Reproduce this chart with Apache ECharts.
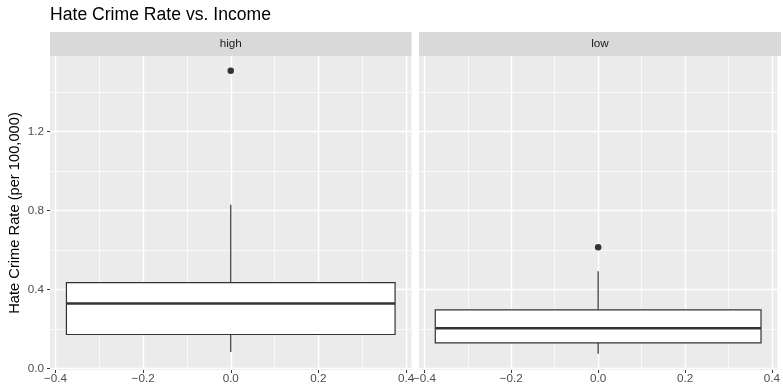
<!DOCTYPE html>
<html><head><meta charset="utf-8">
<script src="https://cdn.jsdelivr.net/npm/echarts@6/dist/echarts.min.js"></script>
<style>html,body{margin:0;padding:0;background:#fff}#c{width:783px;height:386px}</style>
</head><body><div id="c"></div>
<script>
// ---- data ----
const panels = ['high', 'low'];
// [x, lower whisker, Q1, median, Q3, upper whisker]
const boxHigh = [0, 0.083, 0.172, 0.329, 0.435, 0.830];
const boxLow = [0, 0.074, 0.130, 0.204, 0.297, 0.493];
const outliersHigh = [[0, 1.509]];
const outliersLow = [[0, 0.614]];
const xTicks = [-0.4, -0.2, 0, 0.2, 0.4];
const xMinor = [-0.3, -0.1, 0.1, 0.3];
const yTicks = [0, 0.4, 0.8, 1.2];
const yMinor = [0.2, 0.6, 1.0, 1.4];
const boxHalfWidth = 0.375;
const titleText = 'Hate Crime Rate vs. Income';
const yTitle = 'Hate Crime Rate (per 100,000)';

// ---- layout ----
const FONT = 'Liberation Sans, Arial, sans-serif';
const grids = [
  {left: 50, top: 56, width: 361.5, height: 314},
  {left: 419, top: 56, width: 362, height: 314}
];
const xRange = [-0.4125, 0.4125];
const yRange = [-0.008, 1.584];
const fmt = v => (v < 0 ? '\u2212' : '') + Math.abs(v).toFixed(1);
const TICK_FS = 11.7;

const chart = echarts.init(document.getElementById('c'), null, {renderer: 'canvas'});

function xAxisMajor(gi) {
  return {type: 'value', gridIndex: gi, min: xRange[0], max: xRange[1], position: 'bottom',
    axisLine: {show: false, onZero: false},
    axisTick: {show: true, customValues: xTicks, length: 3, lineStyle: {color: '#333', width: 1}},
    axisLabel: {customValues: xTicks, formatter: fmt, color: '#4D4D4D', fontSize: TICK_FS, fontFamily: FONT, margin: 3},
    splitLine: {show: true, lineStyle: {color: '#fff', width: 1.4}}};
}
function xAxisMinor(gi) {
  return {type: 'value', gridIndex: gi, min: xRange[0], max: xRange[1], position: 'top',
    axisLine: {show: false, onZero: false},
    axisTick: {show: false, customValues: xMinor},
    axisLabel: {show: false, customValues: xMinor},
    splitLine: {show: true, lineStyle: {color: '#fff', width: 0.7}}};
}
function yAxisMajor(gi, labels) {
  const a = {type: 'value', gridIndex: gi, min: yRange[0], max: yRange[1], position: 'left',
    axisLine: {show: false, onZero: false},
    axisTick: {show: labels, customValues: yTicks, length: 3, lineStyle: {color: '#333', width: 1}},
    axisLabel: {show: labels, customValues: yTicks, formatter: fmt, color: '#4D4D4D', fontSize: TICK_FS, fontFamily: FONT, margin: 6},
    splitLine: {show: true, lineStyle: {color: '#fff', width: 1.4}}};
  if (labels) {
    a.name = yTitle; a.nameLocation = 'middle'; a.nameRotate = 90; a.nameGap = 28;
    a.nameTextStyle = {color: '#000', fontSize: 14.7, fontFamily: FONT};
  }
  return a;
}
function yAxisMinor(gi) {
  return {type: 'value', gridIndex: gi, min: yRange[0], max: yRange[1], position: 'right',
    axisLine: {show: false, onZero: false},
    axisTick: {show: false, customValues: yMinor},
    axisLabel: {show: false, customValues: yMinor},
    splitLine: {show: true, lineStyle: {color: '#fff', width: 0.7}}};
}

function renderBox(params, api) {
  const x = api.value(0);
  const lo = api.value(1), q1 = api.value(2), med = api.value(3), q3 = api.value(4), hi = api.value(5);
  const tl = api.coord([x - boxHalfWidth, q3]);
  const br = api.coord([x + boxHalfWidth, q1]);
  const mL = api.coord([x - boxHalfWidth, med]);
  const mR = api.coord([x + boxHalfWidth, med]);
  const pHi = api.coord([x, hi]), pQ3 = api.coord([x, q3]), pQ1 = api.coord([x, q1]), pLo = api.coord([x, lo]);
  const stroke = '#333333';
  return {type: 'group', children: [
    {type: 'line', shape: {x1: pHi[0], y1: pHi[1], x2: pQ3[0], y2: pQ3[1]}, style: {stroke, lineWidth: 1.2}},
    {type: 'line', shape: {x1: pLo[0], y1: pLo[1], x2: pQ1[0], y2: pQ1[1]}, style: {stroke, lineWidth: 1.2}},
    {type: 'rect', shape: {x: tl[0], y: tl[1], width: br[0] - tl[0], height: br[1] - tl[1]}, style: {fill: '#fff', stroke, lineWidth: 1.2}},
    {type: 'line', shape: {x1: mL[0], y1: mL[1], x2: mR[0], y2: mR[1]}, style: {stroke, lineWidth: 2.4}}
  ]};
}

const stripGraphics = [];
grids.forEach((g, i) => {
  stripGraphics.push({type: 'rect', left: g.left, top: 32, shape: {width: g.width, height: 24}, style: {fill: '#D9D9D9'}, silent: true});
  stripGraphics.push({type: 'text', x: g.left + g.width / 2, y: 44, style: {text: panels[i], fill: '#1A1A1A', font: TICK_FS + 'px ' + FONT, textAlign: 'center', textVerticalAlign: 'middle'}, silent: true});
});

chart.setOption({
  animation: false,
  backgroundColor: '#fff',
  title: {text: titleText, left: 50, top: 6, padding: 0, textStyle: {fontSize: 17.6, fontWeight: 'normal', color: '#000', fontFamily: FONT}},
  grid: grids.map(g => Object.assign({show: true, backgroundColor: '#EBEBEB', borderWidth: 0, containLabel: false}, g)),
  xAxis: [xAxisMajor(0), xAxisMajor(1), xAxisMinor(0), xAxisMinor(1)],
  yAxis: [yAxisMajor(0, true), yAxisMajor(1, false), yAxisMinor(0), yAxisMinor(1)],
  graphic: stripGraphics,
  series: [
    {type: 'custom', xAxisIndex: 0, yAxisIndex: 0, renderItem: renderBox, data: [boxHigh], encode: {x: 0, y: [1, 2, 3, 4, 5]}, z: 3},
    {type: 'custom', xAxisIndex: 1, yAxisIndex: 1, renderItem: renderBox, data: [boxLow], encode: {x: 0, y: [1, 2, 3, 4, 5]}, z: 3},
    {type: 'scatter', xAxisIndex: 0, yAxisIndex: 0, data: outliersHigh, symbolSize: 6.5, itemStyle: {color: '#333333', opacity: 1}, z: 4},
    {type: 'scatter', xAxisIndex: 1, yAxisIndex: 1, data: outliersLow, symbolSize: 6.5, itemStyle: {color: '#333333', opacity: 1}, z: 4}
  ]
});
</script></body></html>
